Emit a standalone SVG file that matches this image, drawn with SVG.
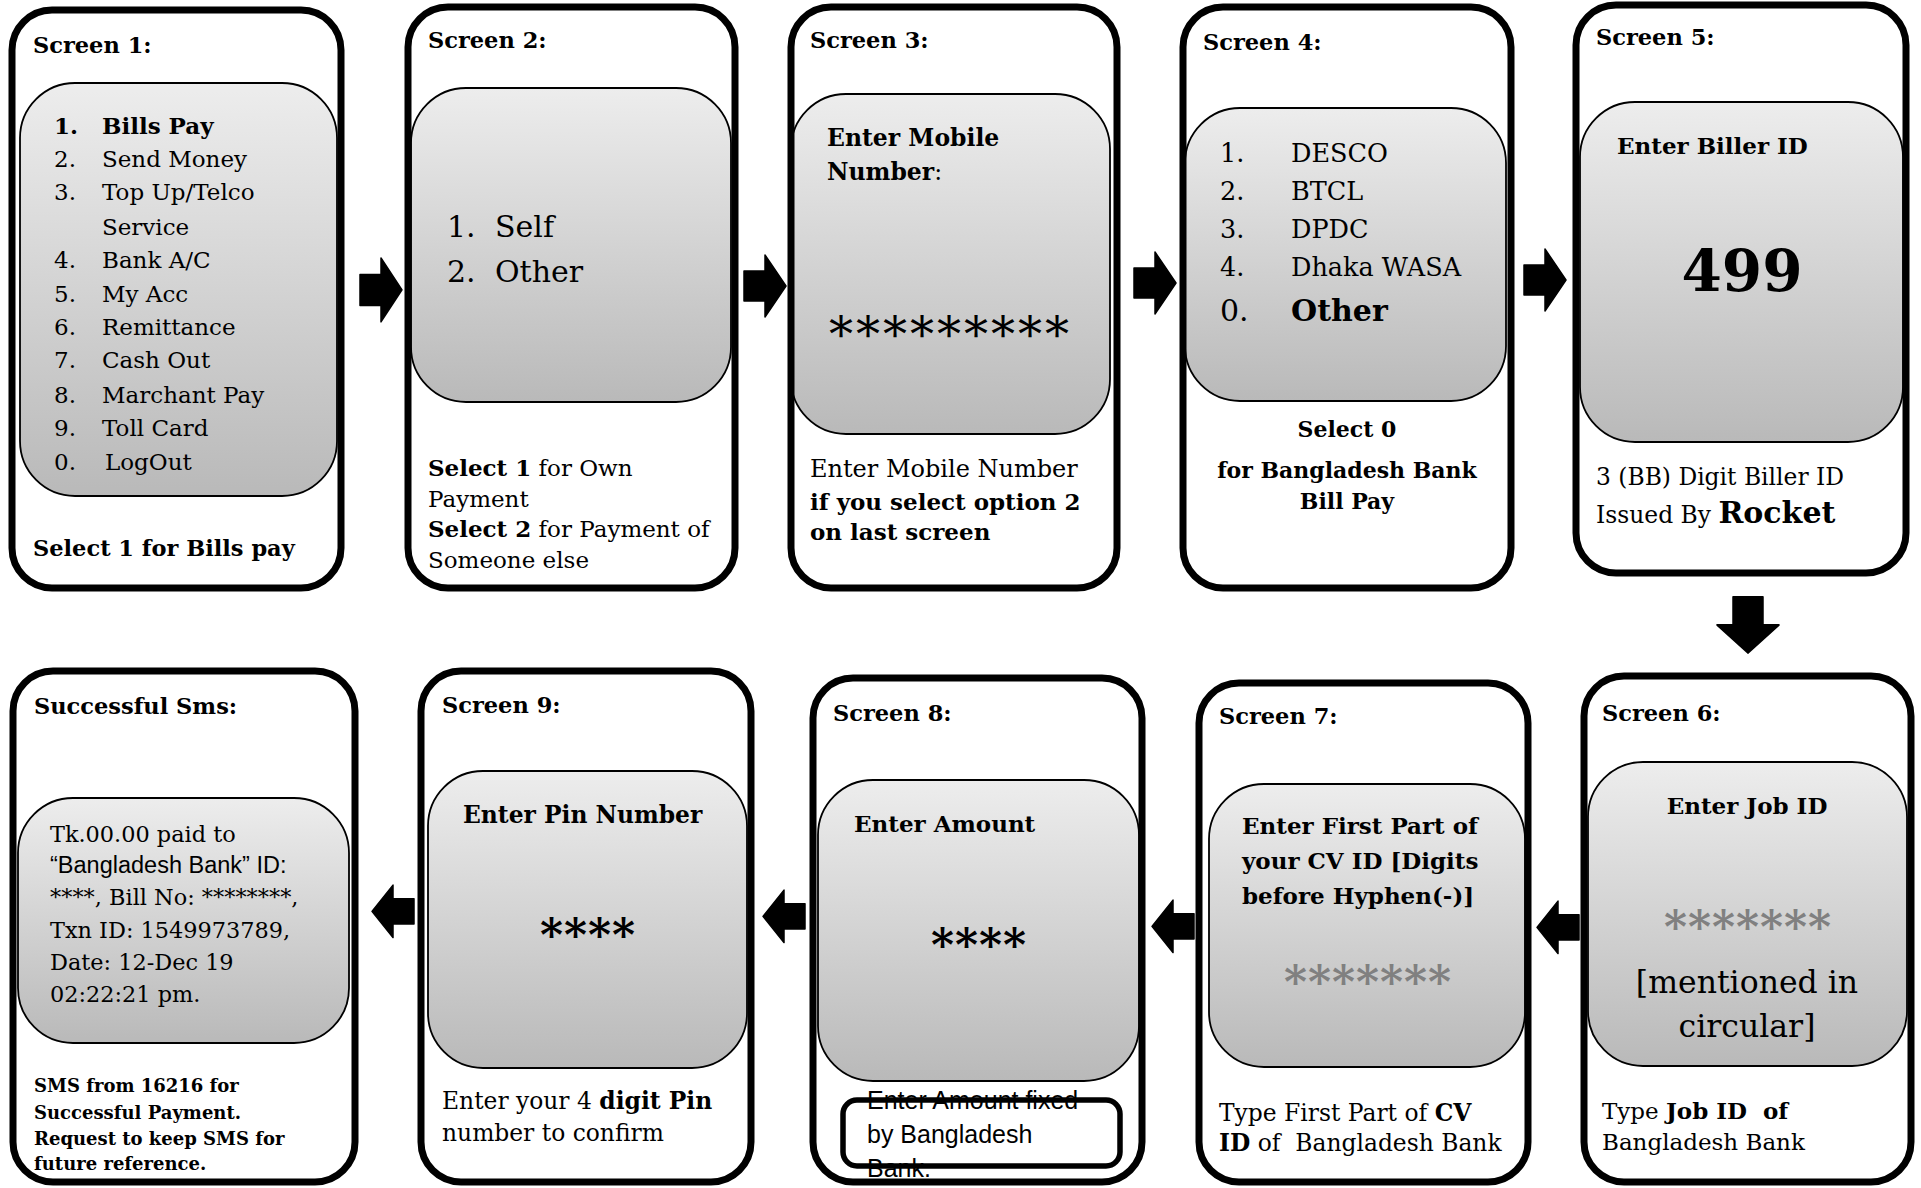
<svg xmlns="http://www.w3.org/2000/svg" xmlns:xlink="http://www.w3.org/1999/xlink" width="1921" height="1188" viewBox="0 0 1921 1188">
<defs>
<linearGradient id="g" x1="0" y1="0" x2="0" y2="1">
<stop offset="0" stop-color="#ededed"/>
<stop offset="1" stop-color="#b9b9b9"/>
</linearGradient>
<path id="arr" d="M0,16 H21 V0 L42,31 L21,62 V46 H0 Z"/>
<style>
.bg{fill:#fff;stroke:none}
.frame{fill:none;stroke:#000;stroke-width:7}
.inner{fill:url(#g);stroke:#000;stroke-width:1.8}
text{font-family:"DejaVu Serif","Liberation Serif",serif;fill:#000}
.h{font-weight:bold;font-size:22.5px}
.b{font-weight:bold}
.li{font-size:23px}
.t{font-size:23px}
.pre{white-space:pre}
.sans{font-family:"Liberation Sans",Arial,sans-serif}
.grey{fill:#808080}
.arrow{fill:#000;stroke:#000;stroke-width:1.5;stroke-linejoin:round}
</style>
</defs>

<g id="screen1">
<rect class="bg" x="12" y="10" width="329" height="578" rx="40"/>
<rect class="inner" x="20" y="83" width="317" height="413" rx="55"/>
<text class="h" x="33" y="53">Screen 1:</text>
<g class="li">
<text x="54" y="134" class="b">1.</text><text x="102" y="134" class="b">Bills Pay</text>
<text x="54" y="167">2.</text><text x="102" y="167">Send Money</text>
<text x="54" y="200">3.</text><text x="102" y="200">Top Up/Telco</text>
<text x="102" y="235">Service</text>
<text x="54" y="268">4.</text><text x="102" y="268">Bank A/C</text>
<text x="54" y="302">5.</text><text x="102" y="302">My Acc</text>
<text x="54" y="335">6.</text><text x="102" y="335">Remittance</text>
<text x="54" y="368">7.</text><text x="102" y="368">Cash Out</text>
<text x="54" y="403">8.</text><text x="102" y="403">Marchant Pay</text>
<text x="54" y="436">9.</text><text x="102" y="436">Toll Card</text>
<text x="54" y="470">0.</text><text x="105" y="470">LogOut</text>
</g>
<text class="b" x="33" y="556" font-size="22.5">Select 1 for Bills pay</text>
<rect class="frame" x="12" y="10" width="329" height="578" rx="40"/>
</g>

<g id="screen2">
<rect class="bg" x="408" y="7" width="327" height="581" rx="40"/>
<rect class="inner" x="411" y="88" width="320" height="314" rx="55"/>
<text class="h" x="428" y="48">Screen 2:</text>
<text x="447" y="237" font-size="30">1.</text><text x="495" y="237" font-size="30">Self</text>
<text x="447" y="282" font-size="30">2.</text><text x="495" y="282" font-size="30">Other</text>
<text class="t" x="428" y="476" font-size="22.5"><tspan class="b">Select 1</tspan> for Own</text>
<text class="t" x="428" y="507" font-size="22.5">Payment</text>
<text class="t" x="428" y="537" font-size="22.5"><tspan class="b">Select 2</tspan> for Payment of</text>
<text class="t" x="428" y="568" font-size="22.5">Someone else</text>
<rect class="frame" x="408" y="7" width="327" height="581" rx="40"/>
</g>

<g id="screen3">
<rect class="bg" x="791" y="7" width="326" height="581" rx="40"/>
<rect class="inner" x="791" y="94" width="319" height="340" rx="55"/>
<text class="h" x="810" y="48">Screen 3:</text>
<text class="b" x="827" y="146" font-size="23.5">Enter Mobile</text>
<text x="827" y="180" font-size="23.5"><tspan class="b">Number</tspan>:</text>
<text x="829" y="351" font-size="48" letter-spacing="3">*********</text>
<text x="810" y="477" font-size="24">Enter Mobile Number</text>
<text class="b" x="810" y="510" font-size="23">if you select option 2</text>
<text class="b" x="810" y="540" font-size="23">on last screen</text>
<rect class="frame" x="791" y="7" width="326" height="581" rx="40"/>
</g>

<g id="screen4">
<rect class="bg" x="1183" y="7" width="328" height="581" rx="40"/>
<rect class="inner" x="1185" y="108" width="321" height="293" rx="55"/>
<text class="h" x="1203" y="50">Screen 4:</text>
<text x="1220" y="162" font-size="25.5">1.</text><text x="1291" y="162" font-size="25.5">DESCO</text>
<text x="1220" y="200" font-size="25.5">2.</text><text x="1291" y="200" font-size="25.5">BTCL</text>
<text x="1220" y="238" font-size="25.5">3.</text><text x="1291" y="238" font-size="25.5">DPDC</text>
<text x="1220" y="276" font-size="25.5">4.</text><text x="1291" y="276" font-size="25.5">Dhaka WASA</text>
<text x="1220" y="321" font-size="30">0.</text><text class="b" x="1291" y="321" font-size="30">Other</text>
<text class="b" x="1347" y="437" font-size="22" text-anchor="middle">Select 0</text>
<text class="b" x="1347" y="478" font-size="22" text-anchor="middle">for Bangladesh Bank</text>
<text class="b" x="1347" y="509" font-size="22" text-anchor="middle">Bill Pay</text>
<rect class="frame" x="1183" y="7" width="328" height="581" rx="40"/>
</g>

<g id="screen5">
<rect class="bg" x="1576" y="5" width="330" height="568" rx="40"/>
<rect class="inner" x="1580" y="102" width="323" height="340" rx="55"/>
<text class="h" x="1596" y="45">Screen 5:</text>
<text class="b" x="1617" y="154" font-size="23">Enter Biller ID</text>
<text class="b" x="1742" y="291" font-size="58" text-anchor="middle">499</text>
<text x="1596" y="485" font-size="23.4">3 (BB) Digit Biller ID</text>
<text x="1596" y="523" font-size="23.4">Issued By <tspan class="b" font-size="30">Rocket</tspan></text>
<rect class="frame" x="1576" y="5" width="330" height="568" rx="40"/>
</g>

<g id="screen6">
<rect class="bg" x="1584" y="676" width="327" height="506" rx="40"/>
<rect class="inner" x="1588" y="762" width="319" height="304" rx="55"/>
<text class="h" x="1602" y="721">Screen 6:</text>
<text class="b" x="1747" y="814" font-size="23" text-anchor="middle">Enter Job ID</text>
<text class="b grey" x="1748" y="943" font-size="44" letter-spacing="1" text-anchor="middle">*******</text>
<text x="1747" y="993" font-size="31.5" text-anchor="middle">[mentioned in</text>
<text x="1747" y="1037" font-size="31.5" text-anchor="middle">circular]</text>
<text class="pre" x="1602" y="1119" font-size="23">Type <tspan class="b">Job ID  of</tspan></text>
<text x="1602" y="1150" font-size="23">Bangladesh Bank</text>
<rect class="frame" x="1584" y="676" width="327" height="506" rx="40"/>
</g>

<g id="screen7">
<rect class="bg" x="1199" y="683" width="329" height="499" rx="40"/>
<rect class="inner" x="1209" y="784" width="316" height="283" rx="55"/>
<text class="h" x="1219" y="724">Screen 7:</text>
<text class="b" x="1242" y="834" font-size="23">Enter First Part of</text>
<text class="b" x="1242" y="869" font-size="23">your CV ID [Digits</text>
<text class="b" x="1242" y="904" font-size="23">before Hyphen(-)]</text>
<text class="b grey" x="1368" y="998" font-size="44" letter-spacing="1" text-anchor="middle">*******</text>
<text x="1219" y="1121" font-size="23.4">Type First Part of <tspan class="b">CV</tspan></text>
<text class="pre" x="1219" y="1151" font-size="23.4"><tspan class="b">ID</tspan> of  Bangladesh Bank</text>
<rect class="frame" x="1199" y="683" width="329" height="499" rx="40"/>
</g>

<g id="screen8">
<rect class="bg" x="813" y="678" width="329" height="504" rx="40"/>
<rect class="inner" x="818" y="780" width="321" height="301" rx="55"/>
<text class="h" x="833" y="721">Screen 8:</text>
<text class="b" x="854" y="832" font-size="23">Enter Amount</text>
<text class="b" x="979" y="961" font-size="44" letter-spacing="1" text-anchor="middle">****</text>
<text class="sans" x="867" y="1109" font-size="25">Enter Amount fixed</text>
<text class="sans" x="867" y="1143" font-size="25">by Bangladesh</text>
<text class="sans" x="867" y="1177" font-size="25">Bank.</text>
<rect x="843" y="1100" width="277" height="66" rx="14" fill="none" stroke="#000" stroke-width="5.5"/>
<rect class="frame" x="813" y="678" width="329" height="504" rx="40"/>
</g>

<g id="screen9">
<rect class="bg" x="421" y="671" width="330" height="511" rx="40"/>
<rect class="inner" x="428" y="771" width="319" height="297" rx="55"/>
<text class="h" x="442" y="713">Screen 9:</text>
<text class="b" x="463" y="823" font-size="23.4">Enter Pin Number</text>
<text class="b" x="588" y="951" font-size="44" letter-spacing="1" text-anchor="middle">****</text>
<text x="442" y="1109" font-size="23.4">Enter your 4 <tspan class="b">digit Pin</tspan></text>
<text x="442" y="1141" font-size="23.4">number to confirm</text>
<rect class="frame" x="421" y="671" width="330" height="511" rx="40"/>
</g>

<g id="successful-sms">
<rect class="bg" x="13" y="671" width="342" height="511" rx="40"/>
<rect class="inner" x="18" y="798" width="331" height="245" rx="55"/>
<text class="h" x="34" y="714">Successful Sms:</text>
<text x="50" y="842" font-size="22.4">Tk.00.00 paid to</text>
<text class="sans" x="50" y="873" font-size="23.5">“Bangladesh Bank” ID:</text>
<text x="50" y="905" font-size="22.4">****, Bill No: ********,</text>
<text x="50" y="938" font-size="22.4">Txn ID: 1549973789,</text>
<text x="50" y="970" font-size="22.4">Date: 12-Dec 19</text>
<text x="50" y="1002" font-size="22.4">02:22:21 pm.</text>
<text class="b" x="34" y="1092" font-size="18">SMS from 16216 for</text>
<text class="b" x="34" y="1119" font-size="18">Successful Payment.</text>
<text class="b" x="34" y="1145" font-size="18">Request to keep SMS for</text>
<text class="b" x="34" y="1170" font-size="18">future reference.</text>
<rect class="frame" x="13" y="671" width="342" height="511" rx="40"/>
</g>

<g id="connectors" class="arrow">
<use xlink:href="#arr" transform="translate(360,258) scale(1,1.03)"/>
<use xlink:href="#arr" transform="translate(744,255) scale(1,1)"/>
<use xlink:href="#arr" transform="translate(1134,252) scale(1,1)"/>
<use xlink:href="#arr" transform="translate(1524,249) scale(1,1)"/>
<use xlink:href="#arr" transform="translate(1779,597) rotate(90) scale(1.33,1)"/>
<use xlink:href="#arr" transform="translate(1579,901) scale(-1,0.85)"/>
<use xlink:href="#arr" transform="translate(1194,900) scale(-1,0.85)"/>
<use xlink:href="#arr" transform="translate(805,890) scale(-1,0.85)"/>
<use xlink:href="#arr" transform="translate(414,885) scale(-1,0.85)"/>
</g>
</svg>
